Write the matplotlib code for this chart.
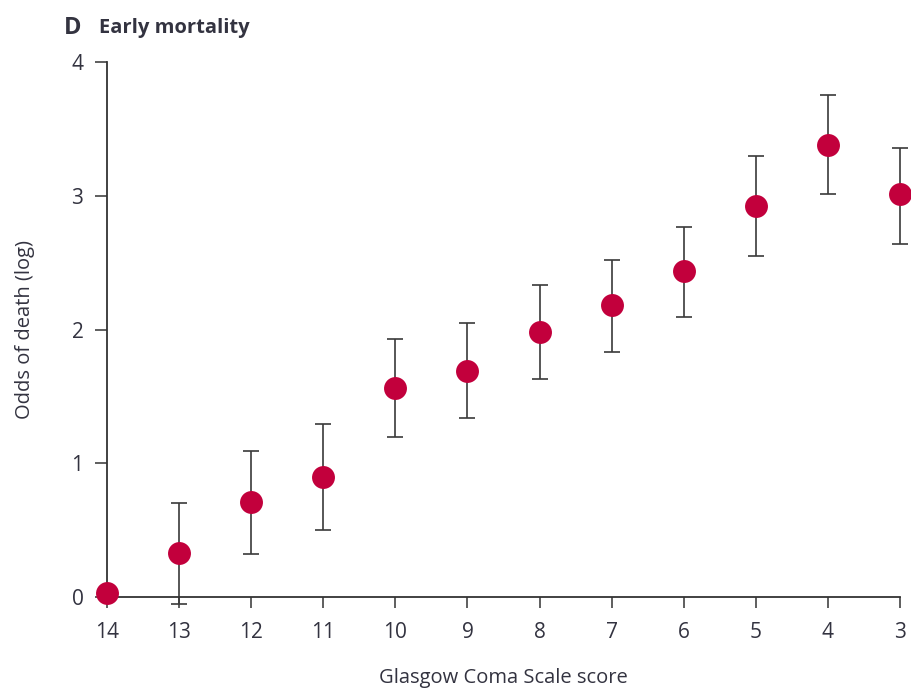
import matplotlib
matplotlib.use("Agg")
import matplotlib.pyplot as plt
import numpy as np

gcs = [14, 13, 12, 11, 10, 9, 8, 7, 6, 5, 4, 3]
estimate = [0.03, 0.33, 0.71, 0.90, 1.56, 1.69, 1.98, 2.18, 2.44, 2.92, 3.38, 3.01]
lower = [0.03, -0.05, 0.32, 0.50, 1.20, 1.34, 1.63, 1.83, 2.09, 2.55, 3.01, 2.64]
upper = [0.03, 0.70, 1.09, 1.29, 1.93, 2.05, 2.33, 2.52, 2.77, 3.30, 3.75, 3.36]
yticks = [0, 1, 2, 3, 4]

plt.rcParams['font.family'] = ['Open Sans', 'DejaVu Sans']
txt = '#333340'

fig = plt.figure(figsize=(9.11, 6.91), dpi=100)
ax = fig.add_axes([107/911, 1-597/691, (900-107)/911, (597-62)/691])

est = np.array(estimate)
yerr = np.vstack([est - np.array(lower), np.array(upper) - est])
ax.errorbar(gcs, est, yerr=yerr, fmt='none', ecolor='#3a3a3a', elinewidth=1.2,
            capsize=5.5, capthick=1.2, clip_on=False, zorder=2)
ax.plot(gcs, est, 'o', color='#c2003c', markersize=16.5, markeredgewidth=0,
        clip_on=False, zorder=3)

ax.set_xlim(14, 3)
ax.set_ylim(0, 4)
ax.set_xticks(gcs)
ax.set_xticklabels([str(g) for g in gcs])
ax.set_yticks(yticks)
ax.set_yticklabels([str(v) for v in yticks])

for s in ['top', 'right']:
    ax.spines[s].set_visible(False)
for s in ['left', 'bottom']:
    ax.spines[s].set_color('#333333')
    ax.spines[s].set_linewidth(1.3)
ax.tick_params(axis='y', length=9, width=1.1, color='#333333', labelsize=15,
               labelcolor=txt, pad=8)
ax.tick_params(axis='x', length=8, width=1.1, color='#333333', labelsize=15,
               labelcolor=txt, pad=10)

ax.set_xlabel('Glasgow Coma Scale score', fontsize=14.5, color=txt, labelpad=18)
ax.set_ylabel('Odds of death (log)', fontsize=14.5, color=txt, labelpad=26)

fig.text(64/911, 1-28/691, 'D', fontsize=17, fontweight='bold', color=txt,
         va='center', ha='left')
fig.text(99/911, 1-28/691, 'Early mortality', fontsize=14.5, fontweight='bold',
         color=txt, va='center', ha='left')

fig.savefig('out.png', dpi=100, facecolor='white')
